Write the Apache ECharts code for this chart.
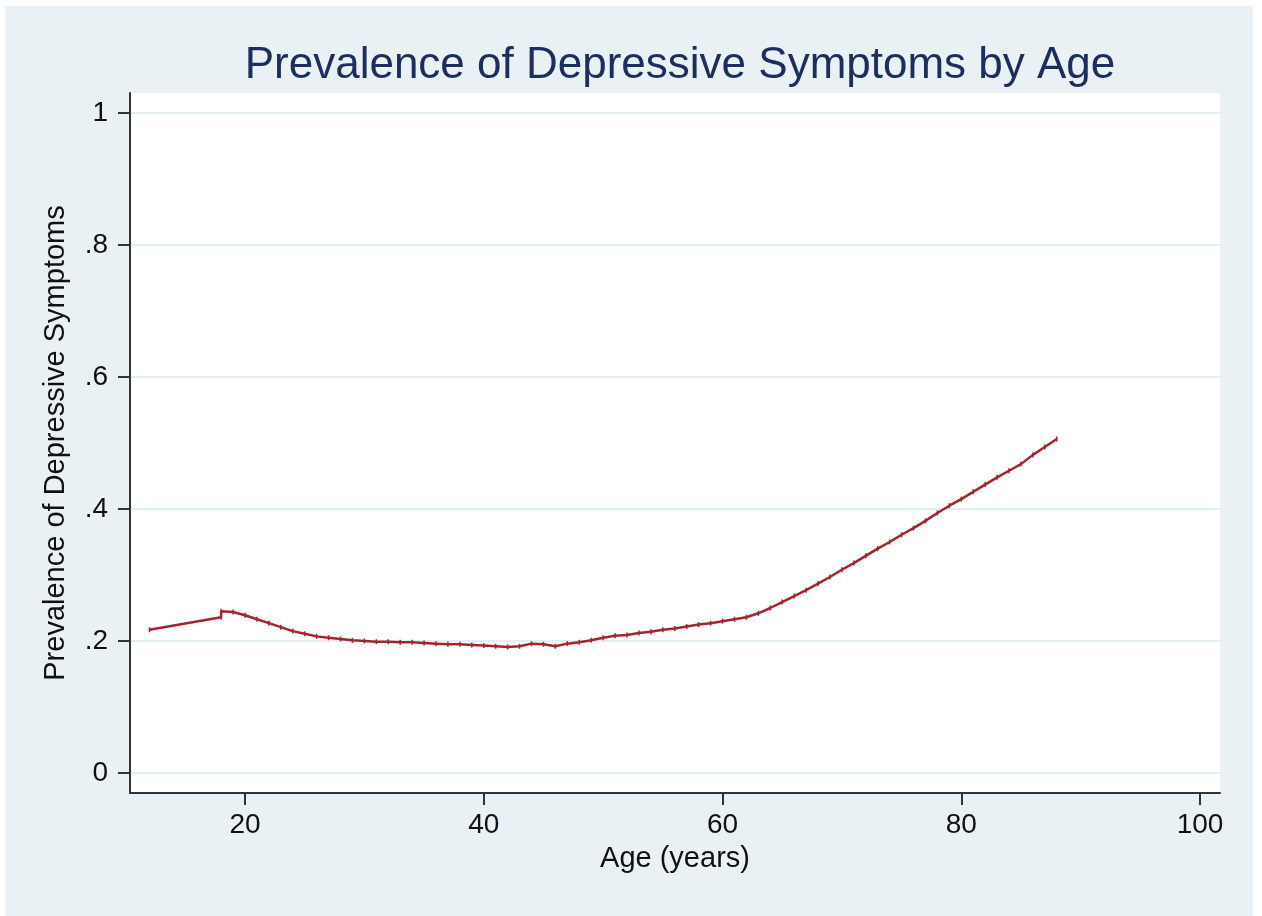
<!DOCTYPE html>
<html>
<head>
<meta charset="utf-8">
<script src="https://cdn.jsdelivr.net/npm/echarts@6/dist/echarts.min.js"></script>
<style>
  html, body { margin: 0; padding: 0; background: #ffffff; }
  #bg { position: absolute; left: 5px; top: 6px; width: 1248px; height: 910px; background: #EAF1F4; }
  #chart { position: absolute; left: 0; top: 0; width: 1262px; height: 916px; }
</style>
</head>
<body>
<div id="bg"></div>
<div id="chart"></div>
<script>
// ---- data ----
const ages = [12, 18, 18, 19, 20, 21, 22, 23, 24, 25, 26, 27, 28, 29, 30, 31, 32, 33, 34, 35,
  36, 37, 38, 39, 40, 41, 42, 43, 44, 45, 46, 47, 48, 49, 50, 51, 52, 53, 54, 55,
  56, 57, 58, 59, 60, 61, 62, 63, 64, 65, 66, 67, 68, 69, 70, 71, 72, 73, 74, 75,
  76, 77, 78, 79, 80, 81, 82, 83, 84, 85, 86, 87, 88];
const prevalence = [0.217, 0.236, 0.245, 0.244, 0.239, 0.233, 0.227, 0.221, 0.215, 0.211, 0.207, 0.205, 0.203, 0.201, 0.200, 0.199, 0.199, 0.198, 0.198, 0.197,
  0.196, 0.195, 0.195, 0.194, 0.193, 0.192, 0.191, 0.192, 0.196, 0.195, 0.192, 0.196, 0.198, 0.201, 0.205, 0.208, 0.209, 0.212, 0.214, 0.217,
  0.219, 0.222, 0.225, 0.227, 0.230, 0.233, 0.236, 0.242, 0.250, 0.259, 0.268, 0.277, 0.287, 0.297, 0.308, 0.318, 0.329, 0.340, 0.350, 0.361,
  0.371, 0.382, 0.394, 0.405, 0.415, 0.426, 0.437, 0.448, 0.458, 0.468, 0.482, 0.494, 0.506];
const xTicks = [20, 40, 60, 80, 100];
const yTicks = [0, 0.2, 0.4, 0.6, 0.8, 1];
const yTickLabels = ['0', '.2', '.4', '.6', '.8', '1'];
const titleText = 'Prevalence of Depressive Symptoms by Age';
const xTitle = 'Age (years)';
const yTitle = 'Prevalence of Depressive Symptoms';

const points = ages.map((a, i) => [a, prevalence[i]]);
const FONT = '"Liberation Sans", Arial, Helvetica, sans-serif';

const chart = echarts.init(document.getElementById('chart'), null, { renderer: 'canvas' });
chart.setOption({
  backgroundColor: 'transparent',
  animation: false,
  title: {
    text: titleText,
    left: 675,
    textAlign: 'center',
    top: 39,
    textStyle: { fontFamily: FONT, fontSize: 44, fontWeight: 'normal', color: '#1C2E5E' }
  },
  grid: {
    left: 130, right: 42, top: 93, bottom: 123,
    show: true, backgroundColor: '#ffffff', borderWidth: 0
  },
  xAxis: {
    type: 'value',
    min: 10.367, max: 101.675,
    name: xTitle,
    nameLocation: 'middle',
    nameGap: 51,
    nameTextStyle: { fontFamily: FONT, fontSize: 29, color: '#111' },
    axisLine: { show: true, onZero: false, lineStyle: { color: '#333', width: 2 } },
    axisTick: { show: true, length: 12, lineStyle: { color: '#333', width: 2 }, customValues: xTicks },
    axisLabel: { fontFamily: FONT, fontSize: 28, color: '#111', margin: 18, customValues: xTicks },
    splitLine: { show: false }
  },
  yAxis: {
    type: 'value',
    min: -0.0303, max: 1.0303,
    name: yTitle,
    nameLocation: 'middle',
    nameGap: 60,
    nameRotate: 90,
    nameTextStyle: { fontFamily: FONT, fontSize: 29, color: '#111' },
    axisLine: { show: true, onZero: false, lineStyle: { color: '#333', width: 2 } },
    axisTick: { show: true, length: 12, lineStyle: { color: '#333', width: 2 }, customValues: yTicks },
    axisLabel: {
      fontFamily: FONT, fontSize: 28, color: '#111', margin: 22, customValues: yTicks,
      formatter: function (v) {
        const i = yTicks.findIndex(t => Math.abs(t - v) < 1e-6);
        return i >= 0 ? yTickLabels[i] : '';
      }
    },
    splitLine: { show: true, lineStyle: { color: '#E4EDF1', width: 2 } }
  },
  series: [{
    type: 'line',
    data: points,
    showSymbol: true,
    symbol: 'rect',
    symbolSize: [1.5, 5],
    itemStyle: { color: '#A3232F' },
    lineStyle: { color: '#A3232F', width: 2.5 },
    z: 5
  }]
});
</script>
</body>
</html>
